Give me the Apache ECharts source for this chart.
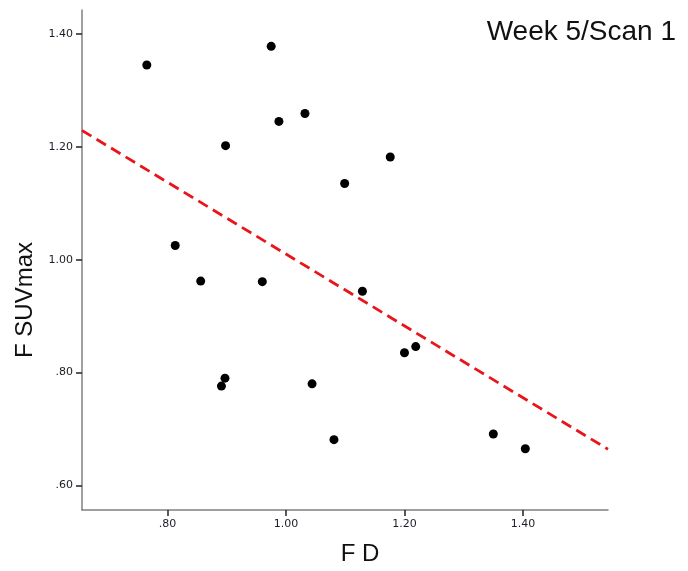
<!DOCTYPE html>
<html>
<head>
<meta charset="utf-8">
<script src="https://cdn.jsdelivr.net/npm/echarts@6/dist/echarts.min.js"></script>
<style>
  html, body { margin: 0; padding: 0; background: #fff; }
  #chart { width: 688px; height: 571px; }
</style>
</head>
<body>
<div id="chart"></div>
<script>
// scatter points
var fdValues = [0.765, 0.975, 1.032, 0.988, 0.898, 1.176, 1.099, 0.813, 0.856, 0.960,
                1.129, 1.200, 1.219, 0.897, 0.891, 1.044, 1.081, 1.350, 1.404];
var suvValues = [1.345, 1.378, 1.259, 1.245, 1.202, 1.182, 1.135, 1.025, 0.962, 0.961,
                 0.944, 0.835, 0.846, 0.790, 0.776, 0.780, 0.681, 0.691, 0.665];

// fit line ends (at the axis limits)
var fitX = [0.6556, 1.5436];
var fitY = [1.229, 0.664];

var xTicks = [0.8, 1.0, 1.2, 1.4];
var yTicks = [0.6, 0.8, 1.0, 1.2, 1.4];

var xRange = [0.6556, 1.5436];
var yRange = [0.5564, 1.4424];

function spssFmt(v) {
  var s = Number(v).toFixed(2);
  return s.charAt(0) === '0' ? s.slice(1) : s;
}

var points = fdValues.map(function (x, i) { return [x, suvValues[i]]; });
var fitLine = fitX.map(function (x, i) { return [x, fitY[i]]; });

var labelStyle = { fontFamily: 'DejaVu Sans', fontSize: 11, color: '#1c1c28' };

var chart = echarts.init(document.getElementById('chart'), null, { renderer: 'canvas' });
chart.setOption({
  animation: false,
  backgroundColor: '#ffffff',
  grid: { left: 82, top: 10, right: 80, bottom: 59, containLabel: false },
  title: {
    text: 'Week 5/Scan 1',
    right: 7, top: 13,
    textStyle: { fontFamily: 'Liberation Sans', fontSize: 28, fontWeight: 'normal', color: '#111' }
  },
  xAxis: {
    type: 'value',
    min: xRange[0], max: xRange[1],
    name: 'F D',
    nameLocation: 'middle',
    nameGap: 32,
    nameTextStyle: { fontFamily: 'Liberation Sans', fontSize: 24, color: '#111', padding: [0, 0, 0, 30] },
    axisLine: { show: true, lineStyle: { color: '#808080', width: 1.5 } },
    axisTick: { show: true, inside: false, length: 6, customValues: xTicks, lineStyle: { color: '#222', width: 1.5 } },
    axisLabel: Object.assign({ margin: 9, customValues: xTicks, formatter: spssFmt }, labelStyle),
    splitLine: { show: false }
  },
  yAxis: {
    type: 'value',
    min: yRange[0], max: yRange[1],
    name: 'F SUVmax',
    nameLocation: 'middle',
    nameRotate: 90,
    nameGap: 42,
    nameTextStyle: { fontFamily: 'Liberation Sans', fontSize: 24, color: '#111', padding: [0, 80, 0, 0] },
    axisLine: { show: true, lineStyle: { color: '#808080', width: 1.5 } },
    axisTick: { show: true, inside: false, length: 6, customValues: yTicks, lineStyle: { color: '#222', width: 1.5 } },
    axisLabel: Object.assign({ margin: 9, customValues: yTicks, formatter: spssFmt }, labelStyle),
    splitLine: { show: false }
  },
  series: [
    {
      type: 'line',
      data: fitLine,
      symbol: 'none',
      silent: true,
      lineStyle: { color: '#e8161b', width: 2.8, type: [11, 6] },
      z: 1
    },
    {
      type: 'scatter',
      data: points,
      symbol: 'circle',
      symbolSize: 9,
      itemStyle: { color: '#000', opacity: 1 },
      z: 2
    }
  ]
});
</script>
</body>
</html>
